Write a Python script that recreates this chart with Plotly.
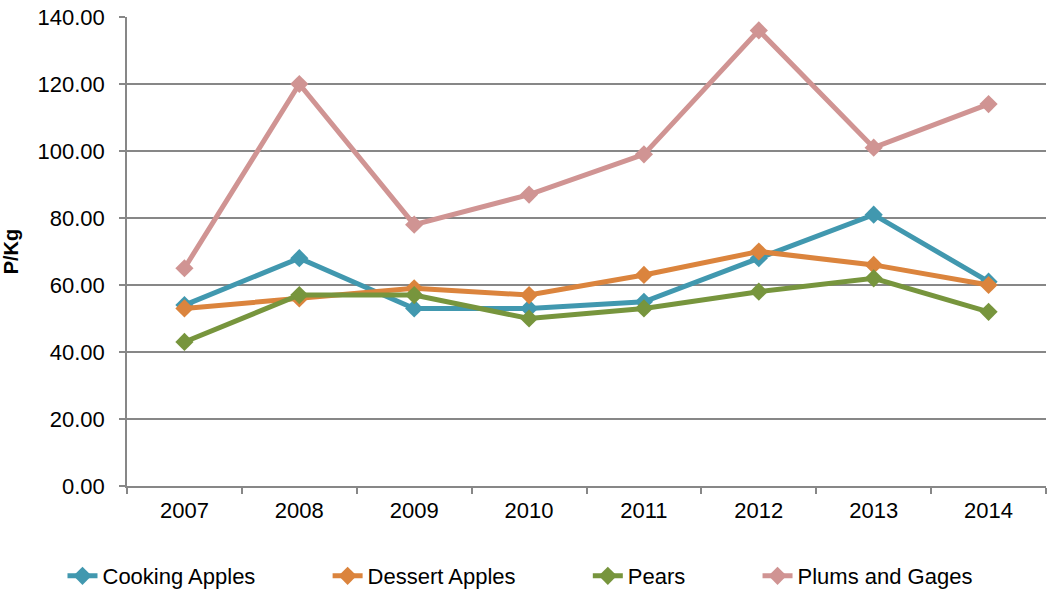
import plotly.graph_objects as go

years = ["2007", "2008", "2009", "2010", "2011", "2012", "2013", "2014"]
cooking_apples = [54, 68, 53, 53, 55, 68, 81, 61]
dessert_apples = [53, 56, 59, 57, 63, 70, 66, 60]
pears = [43, 57, 57, 50, 53, 58, 62, 52]
plums_gages = [65, 120, 78, 87, 99, 136, 101, 114]
y_ticks = [0, 20, 40, 60, 80, 100, 120, 140]

series = [
    ("Cooking Apples", cooking_apples, "#4198AF"),
    ("Dessert Apples", dessert_apples, "#DB843D"),
    ("Pears", pears, "#77953D"),
    ("Plums and Gages", plums_gages, "#D09493"),
]

fig = go.Figure()
for i, (name, vals, col) in enumerate(series):
    # widen gaps between legend entries (not after the last one)
    pad = "\u00a0" * 11 if i < len(series) - 1 else ""
    fig.add_trace(go.Scatter(
        x=years, y=vals, name=name + pad, mode="lines+markers",
        line=dict(color=col, width=5),
        marker=dict(symbol="diamond", size=14, color=col),
    ))

grey = "#878787"
fig.update_layout(
    width=1049, height=597,
    margin=dict(l=127, r=3, t=17, b=111),
    paper_bgcolor="white", plot_bgcolor="white",
    font=dict(family="Liberation Sans, Arial, sans-serif", size=22, color="black"),
    showlegend=True,
    legend=dict(orientation="h", x=0.4957, xref="container", xanchor="center",
                y=0, yref="container", yanchor="bottom",
                font=dict(size=22), itemwidth=30),
)
fig.update_xaxes(
    type="category", tickson="boundaries", range=[-0.5, 7.5], automargin=False,
    showline=True, linecolor=grey, linewidth=1.5,
    ticks="outside", ticklen=6, tickcolor=grey, tickwidth=1.5,
    ticklabelstandoff=4, showgrid=False,
)
fig.update_yaxes(
    range=[0, 140], tickvals=y_ticks, tickformat=".2f", automargin=False,
    ticklabeloverflow="allow",
    showline=True, linecolor=grey, linewidth=1.5,
    ticks="outside", ticklen=6, tickcolor=grey, tickwidth=1.5,
    ticklabelstandoff=10,
    showgrid=True, gridcolor=grey, gridwidth=1.5, zeroline=False,
    title=dict(text="<b>P/Kg</b>", standoff=26, font=dict(size=20)),
)

# drop the default 8px body margin so the figure fills the window
fig.write_html("out.html", config={"displayModeBar": False},
               post_script="document.body.style.margin='0';")
